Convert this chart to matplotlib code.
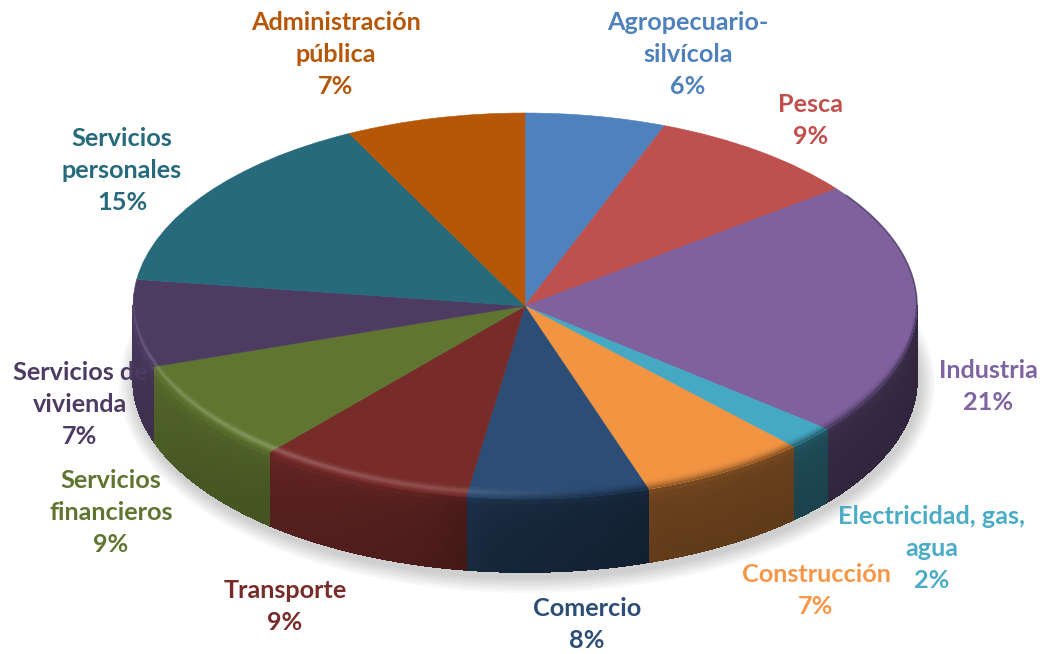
import numpy as np
import matplotlib
matplotlib.use("Agg")
import matplotlib.pyplot as plt
from matplotlib.collections import PolyCollection
from matplotlib.colors import to_rgb
from matplotlib.patches import Ellipse
from matplotlib.transforms import Affine2D

names = ["Agropecuario-\nsilvícola", "Pesca", "Industria", "Electricidad, gas,\nagua",
         "Construcción", "Comercio", "Transporte", "Servicios\nfinancieros",
         "Servicios de\nvivienda", "Servicios\npersonales", "Administración\npública"]
shares = [5.8, 8.8, 21.4, 2.0, 6.9, 7.5, 8.9, 8.6, 7.3, 15.4, 7.4]
colors = ["#4F81BD", "#BE504E", "#7F619E", "#45A9C4", "#F29442", "#2C4D75",
          "#772C2A", "#5F7530", "#4D3B62", "#276A7C", "#B65708"]
text_colors = ["#4F81BD", "#C0504D", "#8064A2", "#4BACC6", "#F79646", "#2C4D75",
               "#772C2A", "#5F7530", "#4D3B62", "#276A7C", "#B65708"]
label_pos = [(688, 54), (811, 120), (988, 386), (932, 548), (816, 590), (587, 625),
             (285, 606), (111, 513), (80, 405), (122, 170), (336, 55)]

# pixel geometry of the tilted disc
cx, cy = 525, 306
rx, ry = 392, 193
depth = 73
rim = 10
line_h = 32

fig = plt.figure(figsize=(10.43, 6.54), dpi=100)
ax = fig.add_axes([0, 0, 1, 1])

wedges, _ = ax.pie(shares, colors=colors, startangle=90, counterclock=False, frame=True,
                   wedgeprops={"linewidth": 0.4, "zorder": 3})
ax.set_xlim(0, 1043)
ax.set_ylim(654, 0)
ax.set_aspect("auto")
ax.axis("off")

disc = Affine2D().scale(rx, -ry).translate(cx, cy) + ax.transData
for w in wedges:
    w.set_edgecolor(w.get_facecolor())
    w.set_transform(disc)
    w.set_clip_on(False)


def point(t, r=1.0, drop=0.0):
    a = np.radians(t)
    return cx + rx * r * np.cos(a), cy - ry * r * np.sin(a) + drop


def wall_factor(t):
    # wall is lit from the left, falls off to the right
    return np.interp(t, [-180, -150, -120, -105, -95, -70, 0], [0.95, 0.83, 0.76, 0.7, 0.55, 0.44, 0.42])


# soft shadow under the disc
for grow in np.arange(16, 0, -2):
    ax.add_patch(Ellipse((cx + 2, cy + depth + 5), 2 * (rx + grow), 2 * (ry + grow),
                         facecolor="black", edgecolor="none", alpha=0.022, zorder=1))

drops = np.linspace(0, depth, 13)
lifts = np.linspace(0, rim, 7)
for w, col in zip(wedges, colors):
    base = np.array(to_rgb(col))
    lo, hi = max(w.theta1, -180), min(w.theta2, 0)
    if hi <= lo:
        continue

    ts = np.arange(lo, hi + 1, 1.0)
    ts[-1] = hi

    # side wall
    verts, faces = [], []
    for t0, t1 in zip(ts[:-1], ts[1:]):
        f = wall_factor((t0 + t1) / 2)
        for d0, d1 in zip(drops[:-1], drops[1:]):
            verts.append([point(t0, 1, d0), point(t1, 1, d0), point(t1, 1, d1), point(t0, 1, d1)])
            k = f * (1.0 + 0.12 * np.exp(-d0 / 6.0) - 0.1 * d0 / depth)
            faces.append(np.clip(base * k, 0, 1))
    ax.add_collection(PolyCollection(verts, facecolors=faces, edgecolors="face",
                                     linewidths=0.6, antialiaseds=False, zorder=2))

    # bevel: crescent on the top surface just above the front edge, kept inside its wedge
    verts, faces = [], []
    for t0, t1 in zip(ts[:-1] - 3, ts[1:] + 3):
        tm = (t0 + t1) / 2
        light = np.interp(tm, [-180, -130, -100, -80], [0.14, 0.22, 0.16, 0.0])
        dark = np.interp(tm, [-100, -75, 0], [0.0, 0.35, 0.45])
        for d0, d1 in zip(lifts[:-1], lifts[1:]):
            s = 1 - d0 / rim
            c = base + (1 - base) * light * np.sin(np.pi * s) ** 2
            c = c * (1 - dark * s ** 2)
            verts.append([point(t0, 1, -d0), point(t1, 1, -d0), point(t1, 1, -d1), point(t0, 1, -d1)])
            faces.append(np.clip(c, 0, 1))
    bevel = PolyCollection(verts, facecolors=faces, edgecolors="none", zorder=4)
    ax.add_collection(bevel)
    bevel.set_clip_path(w)

# thin dark edge on the upper right of the disc
ts = np.arange(0, 36, 1.0)
ax.plot(*point(ts), color="#3A2E50", lw=1.2, alpha=0.6, zorder=4, solid_capstyle="round")

for name, share, pos, tc in zip(names, shares, label_pos, text_colors):
    lines = name.split("\n") + [f"{share:.0f}%"]
    for i, line in enumerate(lines):
        ax.text(pos[0], pos[1] + (i - (len(lines) - 1) / 2) * line_h, line, color=tc,
                ha="center", va="center", family="Lato", fontweight="bold", fontsize=18.2, zorder=6)

fig.savefig("out.png", dpi=100)
